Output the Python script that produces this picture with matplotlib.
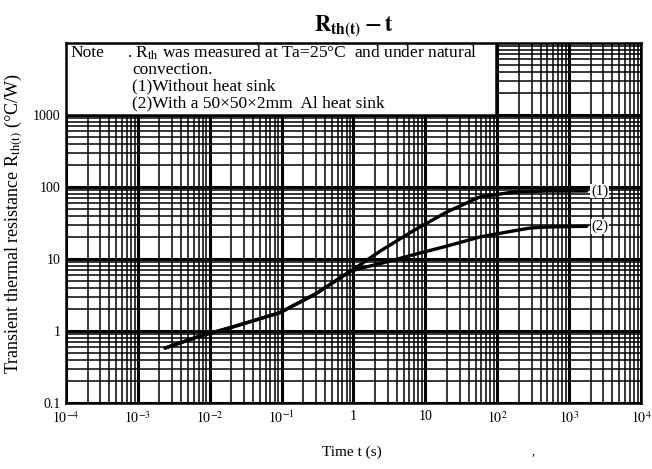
import numpy as np
import matplotlib
matplotlib.use('Agg')
import matplotlib.pyplot as plt
from matplotlib.patches import Rectangle
from matplotlib.ticker import LogLocator, NullFormatter, FixedLocator

plt.rcParams['font.family'] = ['Liberation Serif', 'DejaVu Serif']
plt.rcParams['mathtext.fontset'] = 'stix'

# curve (1): without heat sink
t1 = [0.0024, 0.0073, 0.021, 0.095, 0.3, 0.5, 0.89, 1.3, 2.33, 6.7, 19.9, 57, 165, 490, 1760]
r1 = [0.58, 0.85, 1.14, 1.8, 3.3, 4.6, 6.7, 8.6, 12.8, 24.5, 45, 72.6, 85, 88, 88]
# curve (2): with 50x50x2mm Al heat sink
t2 = [0.0024, 0.0073, 0.021, 0.095, 0.3, 0.5, 0.89, 1.3, 2.33, 6.7, 19.9, 57, 165, 284, 490, 1760]
r2 = [0.58, 0.85, 1.14, 1.8, 3.3, 4.6, 6.7, 7.5, 8.6, 11.4, 15.1, 20.2, 24.5, 26.9, 27.8, 28.5]

xticks = [1e-4, 1e-3, 1e-2, 1e-1, 1, 10, 1e2, 1e3, 1e4]
xlabels = ['$10^{-4}$', '$10^{-3}$', '$10^{-2}$', '$10^{-1}$', '1', '10',
           '$10^{2}$', '$10^{3}$', '$10^{4}$']
yticks = [0.1, 1, 10, 100, 1000]
ylabels = ['0.1', '1', '10', '100', '1000']

fig = plt.figure(figsize=(6.52, 4.69), dpi=100)
ax = fig.add_axes([0.1012, 0.1407, 0.8819, 0.7676])
ax.set_xscale('log')
ax.set_yscale('log')
ax.set_xlim(1e-4, 1e4)
ax.set_ylim(0.1, 1e4)

ax.xaxis.set_major_locator(FixedLocator(xticks))
ax.set_xticklabels(xlabels)
ax.yaxis.set_major_locator(FixedLocator(yticks))
ax.set_yticklabels(ylabels)
ax.xaxis.set_minor_locator(LogLocator(base=10, subs=np.arange(2, 10), numticks=20))
ax.yaxis.set_minor_locator(LogLocator(base=10, subs=np.arange(2, 10), numticks=20))
ax.xaxis.set_minor_formatter(NullFormatter())
ax.yaxis.set_minor_formatter(NullFormatter())
ax.tick_params(which='both', length=0)
ax.tick_params(axis='x', pad=5, labelsize=10)
ax.tick_params(axis='y', pad=4, labelsize=10)

# graph-paper grid
ax.grid(which='major', color='black', lw=2.2)
ax.grid(which='minor', color='black', lw=1.1)
ax.set_axisbelow(True)
for s in ax.spines.values():
    s.set_linewidth(1.8)

ax.plot(t1, r1, color='black', lw=2.4, solid_capstyle='round', zorder=3)
ax.plot(t2, r2, color='black', lw=2.4, solid_capstyle='round', zorder=3)

ax.text(2670, 88, '(1)', ha='center', va='center', fontsize=10.5, zorder=4,
        bbox=dict(facecolor='white', edgecolor='none', pad=0.5))
ax.text(2670, 28.5, '(2)', ha='center', va='center', fontsize=10.5, zorder=4,
        bbox=dict(facecolor='white', edgecolor='none', pad=0.5))

# note box
ax.add_patch(Rectangle((1e-4, 1000), 95 - 1e-4, 1e4 - 1000, facecolor='white',
                       edgecolor='black', lw=1.8, zorder=4))
tr = ax.transAxes
ax.text(0.007, 0.972, 'Note', fontsize=12.5, va='center', transform=tr, zorder=5)
ax.text(0.106, 0.972, '. R$_{\\rm th}$ was measured at Ta=25°C  and under natural',
        fontsize=12.5, va='center', transform=tr, zorder=5)
ax.text(0.115, 0.925, 'convection.', fontsize=12.5, va='center', transform=tr, zorder=5)
ax.text(0.115, 0.879, '(1)Without heat sink', fontsize=12.5, va='center', transform=tr, zorder=5)
ax.text(0.115, 0.832, '(2)With a 50×50×2mm  Al heat sink', fontsize=12.5, va='center',
        transform=tr, zorder=5)

ax.set_title('$\\mathbf{R_{th(t)} - t}$', fontsize=16, pad=8)
ax.set_xlabel('Time t (s)', fontsize=11)
ax.xaxis.set_label_coords(0.497, -0.118)
ax.set_ylabel('Transient thermal resistance R$_{\\rm th(t)}$ (°C/W)', fontsize=13)
ax.yaxis.set_label_coords(-0.071, 0.5)
fig.text(533 / 652, 1 - 452 / 469, ',', fontsize=9, ha='center', va='center')

fig.savefig('out.png', dpi=100)
